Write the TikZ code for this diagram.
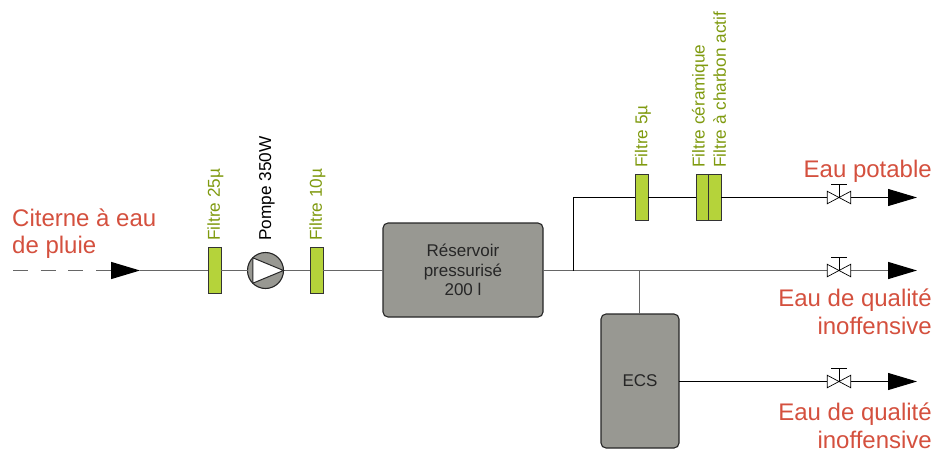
\documentclass[tikz,border=0pt]{standalone}
\usepackage{fontspec}
\setmainfont{Liberation Sans}
\usetikzlibrary{arrows.meta}
\definecolor{lbl}{HTML}{D4503E}
\definecolor{olive}{HTML}{7F9A0F}
\definecolor{fgreen}{HTML}{B5D33A}
\definecolor{tank}{HTML}{989892}
\definecolor{pipegrey}{HTML}{666666}
\tikzset{
  x=1pt,y=-1pt,
  filterbox/.style={draw=black!80,line width=0.9pt,fill=fgreen,minimum width=13pt,minimum height=46pt,inner sep=0,outer sep=0},
  tankbox/.style={draw=black!85,line width=1.1pt,fill=tank,rounded corners=5pt,inner sep=0,outer sep=0,align=center,font=\fontsize{17}{19.5}\selectfont,text=black!85},
  valvespot/.style={minimum width=23.5pt,minimum height=12.5pt,inner sep=0,outer sep=0},
  flabel/.style={rotate=90,anchor=west,inner sep=0,text=olive,font=\fontsize{17.2}{20}\selectfont},
  biglabel/.style={inner sep=0,text=lbl,font=\fontsize{24}{27.7}\selectfont},
  pipe/.style={line width=1.4pt,pipegrey},
  bpipe/.style={line width=1pt,black},
  flow/.style={-{Triangle[length=29pt,width=17pt]},shorten >=0pt},
}
\newcommand{\valvesym}[1]{%
  \draw[line width=0.7pt,fill=white,line join=miter] (#1.south west)--(#1.north west)--(#1.south east)--(#1.north east)--cycle;
  \draw[line width=0.7pt] (#1.center)--++(0,-13) ++(-8,0)--++(16,0);
}
\begin{document}
\begin{tikzpicture}
\useasboundingbox (0,0) rectangle (934,450);
% anchors
\coordinate (start) at (13,270.5);
\coordinate (a1) at (110,270.5);
\coordinate (a2) at (140,270.5);
\coordinate (tee) at (573.5,270.5);
\coordinate (corner) at (573.5,197.5);
\coordinate (teeb) at (639.5,270.5);
\coordinate (e1) at (917,197.5);
\coordinate (e2) at (917,270.5);
\coordinate (e3) at (917,381.5);
% pipes
\draw[pipe,dash pattern=on 15pt off 12.7pt] (start)--(a1);
\draw[pipe,-{Triangle[length=29pt,width=17pt,black]}] (a1)--(a2);
\node[filterbox] (f25) at (214.5,270.5) {};
\node[circle,draw=black!85,line width=1.1pt,fill=tank,minimum size=36pt,inner sep=0,outer sep=0] (pump) at (265.5,270.5) {};
\node[filterbox] (f10) at (316.5,270.5) {};
\node[tankbox,minimum width=160pt,minimum height=94pt] (res) at (463,270) {Réservoir\\pressurisé\\200 l};
\node[tankbox,minimum width=78pt,minimum height=134pt] (ecs) at (640,381) {ECS};
\node[filterbox] (f5) at (641.5,197.5) {};
\node[filterbox] (fc) at (702.5,197.5) {};
\node[filterbox,minimum width=12.5pt] (fa) at (715,197.5) {};
\node[valvespot] (v1) at (839,197.5) {};
\node[valvespot] (v2) at (839,270.5) {};
\node[valvespot] (v3) at (839,381.5) {};
\draw[pipe] (a2)--(f25) (f25)--(pump) (pump)--(f10) (f10)--(res.west|-f10) (res.east|-tee)--(tee)--(teeb)--(v2);
\draw[pipe,line width=1.1pt] (teeb)--(teeb|-ecs.north);
\draw[bpipe] (tee)--(corner)--(f5) (f5)--(fc) (fa)--(v1) (ecs.east|-v3)--(v3);
\draw[bpipe,flow] (v1)--(e1);
\draw[pipe,flow,-{Triangle[length=29pt,width=17pt,black]}] (v2)--(e2);
\draw[bpipe,flow] (v3)--(e3);
\valvesym{v1}\valvesym{v2}\valvesym{v3}
% pump triangle
\fill[white,draw=black!85,line width=1pt,line join=miter] (pump.north west)--(pump.east)--(pump.south west)--cycle;
% labels
\node[flabel] (lf25) at (215.5,241) {Filtre 25µ};
\node[flabel,text=black] (lp) at (267,241) {Pompe 350W};
\node[flabel] (lf10) at (317.5,241) {Filtre 10µ};
\node[flabel] (lf5) at (643,168) {Filtre 5µ};
\node[flabel] (lfc) at (700,168) {Filtre céramique};
\node[flabel] (lfa) at (719.5,168) {Filtre à charbon actif};
\node[biglabel,align=left,anchor=north west] (lc) at (12,208.2) {Citerne à eau\\de pluie};
\node[biglabel,anchor=base east] (lp1) at (932,177) {Eau potable};
\node[biglabel,align=right,anchor=north east] (lp2) at (932,289) {Eau de qualité\\inoffensive};
\node[biglabel,align=right,anchor=north east] (lp3) at (932,403) {Eau de qualité\\inoffensive};
\end{tikzpicture}
\end{document}
